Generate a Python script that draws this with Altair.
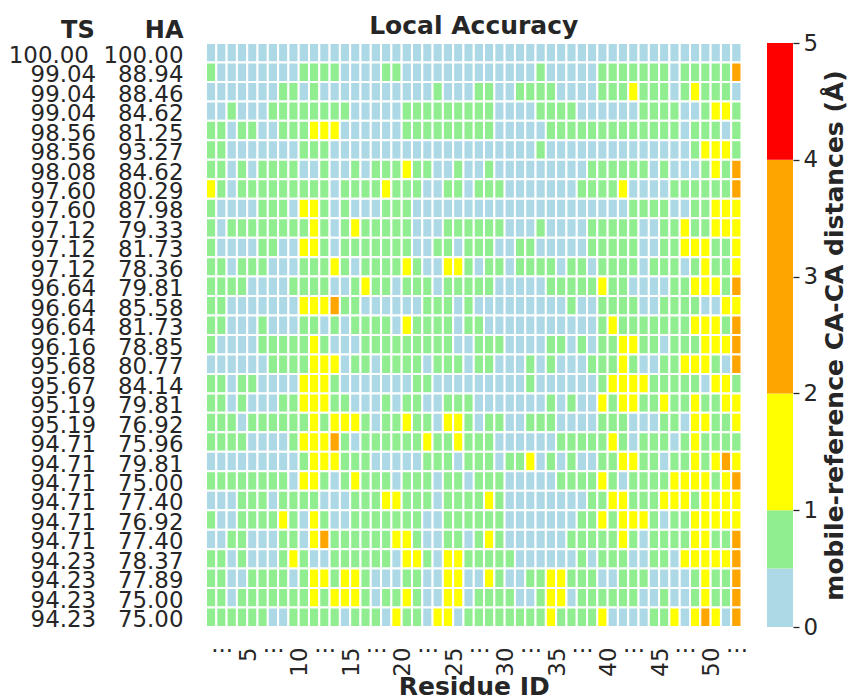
import altair as alt
import pandas as pd

ts_scores = ["100.00", "99.04", "99.04", "99.04", "98.56", "98.56", "98.08", "97.60", "97.60", "97.12",
             "97.12", "97.12", "96.64", "96.64", "96.64", "96.16", "95.68", "95.67", "95.19", "95.19",
             "94.71", "94.71", "94.71", "94.71", "94.71", "94.71", "94.23", "94.23", "94.23", "94.23"]
ha_scores = ["100.00", "88.94", "88.46", "84.62", "81.25", "93.27", "84.62", "80.29", "87.98", "79.33",
             "81.73", "78.36", "79.81", "85.58", "81.73", "78.85", "80.77", "84.14", "79.81", "76.92",
             "75.96", "79.81", "75.00", "77.40", "76.92", "77.40", "78.37", "77.89", "75.00", "75.00"]

# per-structure colour class of each residue (B <0.5, G 0.5-1, Y 1-2, O 2-4 Angstrom)
rows = [
    "BBBBBBBBBBBBBBBBBBBBBBBBBB" + "BBBBBBBBBBBBBBBBBBBBBBBBBB",
    "GBBBBBBBBGGGGBBBBGGBBBBBBB" + "BBBBBBGBBBBBGGGGGGGBGGGGGO",
    "BBBBBBBGGBGBBBBBBBBBBBGBBB" + "GGBBGGGGBBBBGGGYGGGBGYGGGB",
    "BBGBBBGGGGGGGGBBBBBGGGGGGG" + "GGBBBBGGGGBBBBBBGGGGBBGYYG",
    "GGBGGBBGGGYYYBBBBBBGGGGGGG" + "GGBBBBBGGGGGGGGGGGGGBGGGBG",
    "GGBBBBBBBGGGBBBBBBBBBBBBBB" + "BBBBBBGBBBBBBBBBBBBBBGYYYG",
    "GGBGBGGGGBBGBBGBGGGYGGBBGB" + "BGBBBBBBBBBGGGGGGBGBBBGYGO",
    "YGBGGGGGGGGGBGGGGYGGGBBGGB" + "GGGBBBBBBBGGGGYBBBBGGGGGGO",
    "GBBBBGGGBYYGBGBBBGGGBBBBBB" + "BBBBBBBBBBBBBBBGGGGBBGGYYY",
    "GBGGGGGGGGYGBGYGGGGGBBBGGG" + "GGGBBBGBBBBGGGGGBBGGYGGYYY",
    "GBBBBGGBBYYGBGGGGGGGBBGGBG" + "GGBBGGBBBBBGGGGGBBGGYYYGGY",
    "GGBGGGBBBGGGYGBGGGGYGBBYYG" + "BGGBGGGGBGGBGGGGBGGGBGYGGY",
    "GGGGBBBBGGGGBBGYGGBGGGBGGG" + "GGBBBBBGGGGGYGGBBBBGGYYYGO",
    "GGBBBBBBBYYYOGGBBBBBBGGGBG" + "BBBBBBBBBGBBGGGGBBGGGGBBYY",
    "GGBBBGBBBGGBGBGGGGBYGGGGBG" + "GBBBBBBBBBBBGYGGGGGGGYYYGO",
    "GBBBBGGGGGYGBBBGGGGGGGGGBB" + "GGGBBBBGGBGBGGYYGGBGGGYYYO",
    "BBBBBBGGGGYYYBGGBGGGGBGGGB" + "GGBBBGBGBBBGGGYGBBGGYYYGBO",
    "GGBGGBBBBYYYGBBBBBBBGGBBBB" + "BBBBBGBBBBBBGYYYYGGGGGBYYG",
    "GGBGBBBGGYYYGGBBBGBGGBBGGG" + "BBBBBBBGBGBBYGYYGGYGGYGGYY",
    "GGGBGGGGGGYGYYYGBGGYGGBYYG" + "BGGBBGGGBBBBGGGBBBGGBYYGGY",
    "GGGGBBBBGYYYOGBGGGGGGYGGYG" + "GGBBBBBBGGGGGYGBGGGBGYGGGG",
    "BBBBBBBBBGYYYGGGBBBBBGGGBG" + "GGBGGYBGBGBBGGYYGGBGGYGYOY",
    "GGGGGGGGBYYGBGYGGGBGGGBGGB" + "GGGBBBBBGGGGYGBGGGGYYYYGYO",
    "BBBGGGBGGGGBBBGGGYYGGGBGGG" + "GYGBBBBBBBBGGYYGGGYYYGYYYY",
    "GBBGGGGYGBYGBBGGGGGGGBBGGG" + "GGGBBBBBBBGGYGYYYGBGGYYYYY",
    "BBGGBBBGGBYOGGGGGGYYGBBGGB" + "GYGBBBBBBGGGGGYGBGGGGYYGGO",
    "GGBGBBBGYGBBGGGGGGBYYGBYYG" + "GGGGBBBBBBGBGGGBBGGBYYYYYO",
    "GGBBGGGGBGYYGYYGBBBGGBBYYB" + "BYGBBGGYYGGGBBGGGBBBBGYGGO",
    "GGBGGGGGGGYGYYYGBGGYGBBYYB" + "GGGGBBGYYBGGGGGGBBGBBGYGGO",
    "GGGGGGBBGGGGGBGGGBYGGBYYBG" + "GGGGGGGYGGGGYBBBBGGYBYOYBO",
]
class_value = {"B": 0.25, "G": 0.75, "Y": 1.5, "O": 3.0, "R": 4.5}

tick_residues = [5, 10, 15, 20, 25, 30, 35, 40, 45, 50]
dot_positions = [2.5, 7.5, 12.5, 17.5, 22.5, 27.5, 32.5, 37.5, 42.5, 47.5, 52.5]

bar_lo = [0.0, 0.5, 1.0, 2.0, 4.0]
bar_hi = [0.5, 1.0, 2.0, 4.0, 5.0]
bar_mid = [0.25, 0.75, 1.5, 3.0, 4.5]
thresholds = [0.5, 1.0, 2.0, 4.0]
palette = ["#add8e6", "#90ee90", "#ffff00", "#ffa500", "#ff0000"]

FONT = "DejaVu Sans"
TXT = "#262626"
NB = "\u00a0"
W, H = 535.5, 584

records = []
for r, line in enumerate(rows):
    for c, ch in enumerate(line):
        res = c + 1
        records.append({"row": r, "res": res, "x0": res - 0.5, "x1": res + 0.5,
                        "dist": class_value[ch]})
df = pd.DataFrame(records)

labels = [ts.rjust(6, NB) + NB + NB + ha.rjust(6, NB) for ts, ha in zip(ts_scores, ha_scores)]
label_expr = "[" + ",".join("'" + s + "'" for s in labels) + "][datum.value]"

color_scale = alt.Scale(type="threshold", domain=thresholds, range=palette)
n_res = len(rows[0])

cells = alt.Chart(df).mark_rect(stroke="white", strokeWidth=2).encode(
    x=alt.X("x0:Q",
            scale=alt.Scale(domain=[0.5, n_res + 0.5], nice=False, zero=False),
            axis=alt.Axis(values=tick_residues, labelAngle=270, labelAlign="right",
                          labelBaseline="middle", labelPadding=20, labelOffset=-4,
                          labelFlush=False, labelOverlap=False,
                          ticks=False, domain=False, grid=False,
                          labelFont=FONT, labelFontSize=22.9, labelColor=TXT,
                          title="Residue ID", titleFont=FONT, titleFontSize=25,
                          titleFontWeight="bold", titleColor=TXT,
                          titleBaseline="alphabetic", titleY=67)),
    x2="x1:Q",
    y=alt.Y("row:O", scale=alt.Scale(paddingInner=0, paddingOuter=0),
            axis=alt.Axis(labelExpr=label_expr, labelAlign="right", labelPadding=23,
                          labelOffset=3,
                          ticks=False, domain=False, grid=False,
                          labelFont=FONT, labelFontSize=22.9, labelColor=TXT,
                          title="TS" + NB * 6 + "HA", titleAngle=0, titleAlign="right",
                          titleBaseline="alphabetic", titleX=-23, titleY=-6,
                          titleFont=FONT, titleFontSize=24, titleFontWeight="bold",
                          titleColor=TXT)),
    color=alt.Color("dist:Q", scale=color_scale, legend=None),
)

# the little dot groups between the numbered residue labels
dots = alt.Chart(pd.DataFrame({"p": dot_positions})).mark_text(
    text="...", font=FONT, fontSize=22.9, color=TXT, align="center",
    baseline="alphabetic", dx=-4.5,
).encode(x=alt.X("p:Q"), y=alt.value(H + 25))

heat = alt.layer(cells, dots).properties(
    width=W, height=H,
    title=alt.TitleParams("Local Accuracy", font=FONT, fontSize=25, fontWeight="bold",
                          color=TXT, anchor="middle", frame="group", offset=-21),
)

cb_df = pd.DataFrame({"lo": bar_lo, "hi": bar_hi, "mid": bar_mid})
colorbar = alt.Chart(cb_df).mark_rect().encode(
    y=alt.Y("lo:Q", scale=alt.Scale(domain=[0, 5], nice=False, zero=False),
            axis=alt.Axis(orient="right", values=[0, 1, 2, 3, 4, 5], format="d",
                          ticks=True, tickSize=6, tickWidth=1.3, tickColor=TXT,
                          domain=False, grid=False, labelPadding=4,
                          labelFont=FONT, labelFontSize=22.9, labelColor=TXT,
                          title="mobile-reference CA-CA distances (Å)", titleAngle=270,
                          titleBaseline="top",
                          titleFont=FONT, titleFontSize=25, titleFontWeight="bold",
                          titleColor=TXT, titlePadding=5)),
    y2="hi:Q",
    color=alt.Color("mid:Q", scale=color_scale, legend=None),
).properties(width=26, height=H)

chart = alt.hconcat(heat, colorbar, spacing=25, bounds="flush").properties(
    padding={"left": 0, "top": 6, "right": 0, "bottom": 0},
    background="white",
).configure_view(stroke=None)

chart.save("out.html", embed_options={"renderer": "svg", "actions": False})
